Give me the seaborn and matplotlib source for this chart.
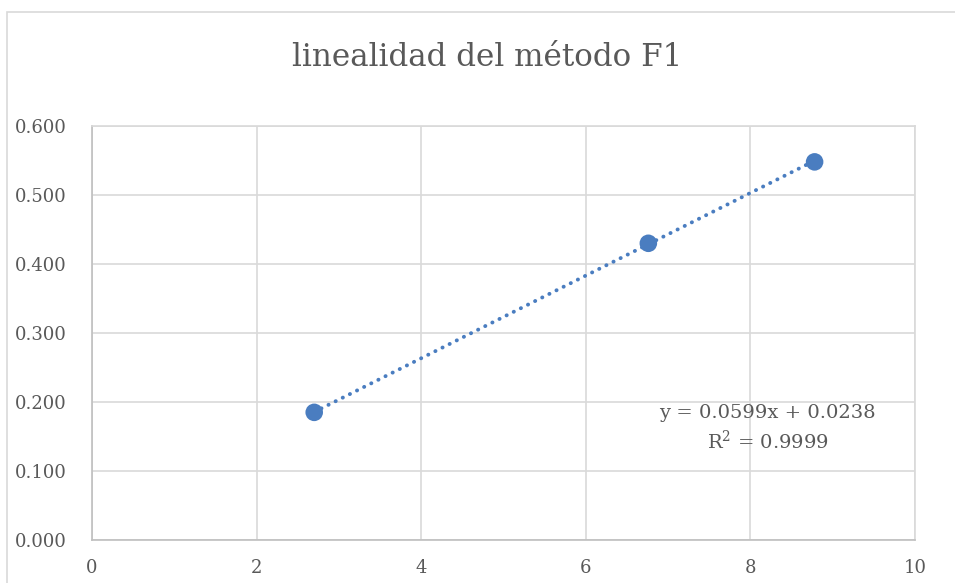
import matplotlib
matplotlib.use("Agg")
import matplotlib.pyplot as plt
from matplotlib.patches import Rectangle
import numpy as np
import pandas as pd
import seaborn as sns

# Calibration data
concentration = [2.70, 6.76, 8.78]
absorbance = [0.185, 0.430, 0.548]

# Linear trendline reported for the series
slope = 0.0599
intercept = 0.0238
r_squared = 0.9999

x_ticks = [0, 2, 4, 6, 8, 10]
y_ticks = [0.0, 0.1, 0.2, 0.3, 0.4, 0.5, 0.6]

title = "linealidad del método F1"
eq_label = f"y = {slope:.4f}x + {intercept:.4f}"
r2_label = "R$^{2}$" + f" = {r_squared:.4f}"

sns.set_theme(style="white")
plt.rcParams["font.family"] = ["DejaVu Serif", "Liberation Serif"]
plt.rcParams["mathtext.fontset"] = "dejavuserif"
plt.rcParams["mathtext.default"] = "regular"

blue = "#4A7DC0"
gray_txt = "#595959"
grid_c = "#D9D9D9"

fig = plt.figure(figsize=(9.55, 5.83), dpi=100)
ax = fig.add_axes([92 / 955, 43 / 583, (915 - 92) / 955, (540 - 126) / 583])

df = pd.DataFrame({"x": concentration, "y": absorbance})
trend_x = np.array([min(concentration), max(concentration)])
trend = pd.DataFrame({"x": trend_x, "y": slope * trend_x + intercept})

sns.lineplot(data=trend, x="x", y="y", ax=ax, color=blue, lw=2.8,
             linestyle=(0, (0.05, 2.0)), dash_capstyle="round", zorder=3)
sns.scatterplot(data=df, x="x", y="y", ax=ax, color=blue, s=160,
                edgecolor="none", zorder=4)

ax.set_xlim(0, 10)
ax.set_ylim(0, 0.6)
ax.set_xticks(x_ticks)
ax.set_yticks(y_ticks)
ax.set_xticklabels([str(t) for t in x_ticks])
ax.set_yticklabels([f"{t:.3f}" for t in y_ticks])
ax.set_xlabel("")
ax.set_ylabel("")
ax.grid(True, color=grid_c, lw=1.2)
ax.set_axisbelow(True)
for side, sp in ax.spines.items():
    sp.set_color(grid_c)
    sp.set_linewidth(1.2)
ax.spines["bottom"].set_color("#BFBFBF")
ax.spines["left"].set_color("#BFBFBF")
ax.tick_params(axis="x", length=0, pad=14, labelsize=13, labelcolor=gray_txt)
ax.tick_params(axis="y", length=0, pad=18, labelsize=13, labelcolor=gray_txt)

ax.text(8.21, 0.184, eq_label, ha="center", va="center", fontsize=14,
        color=gray_txt)
ax.text(8.21, 0.1435, r2_label, ha="center", va="center", fontsize=14,
        color=gray_txt)

fig.text(487 / 955, 1 - 58 / 583, title, ha="center", va="center",
         fontsize=22.3, color=gray_txt)

# Chart area frame
fig.add_artist(Rectangle((7 / 955, -0.1), 1.2, 1 - 12 / 583 + 0.1,
                         transform=fig.transFigure, fill=False,
                         edgecolor="#D9D9D9", lw=1.2))

fig.savefig("out.png", dpi=100, facecolor="white")
